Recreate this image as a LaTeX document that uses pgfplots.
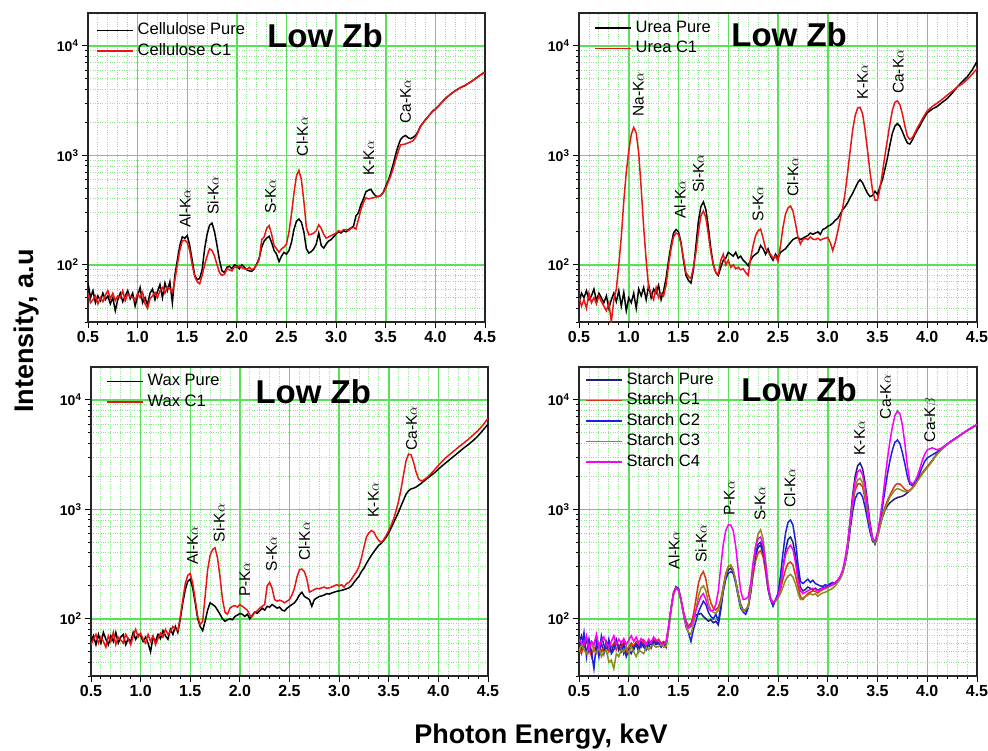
\documentclass[border=0pt]{standalone}
\usepackage{fontspec}
\setmainfont{Liberation Sans}
\usepackage{pgfplots}
\usepackage{pgfplotstable}
\pgfplotsset{compat=1.18}

\definecolor{gridmaj}{RGB}{90,225,90}
\definecolor{gridmin}{RGB}{140,230,140}
\definecolor{cred}{RGB}{235,20,20}
\definecolor{spure}{RGB}{30,30,130}
\definecolor{sc1}{RGB}{220,50,20}
\definecolor{sc2}{RGB}{30,30,230}
\definecolor{sc3}{RGB}{140,140,30}
\definecolor{sc4}{RGB}{250,0,250}

% Cellulose: pure, C1
\pgfplotstableread{
E P R
0.500 68 55
0.525 50 45
0.550 58 48
0.575 45 52
0.600 52 44
0.625 47 50
0.650 55 46
0.675 48 53
0.700 52 58
0.725 44 49
0.750 50 55
0.775 38 47
0.800 48 52
0.825 55 50
0.850 46 58
0.875 52 47
0.900 58 54
0.925 49 51
0.950 55 50
0.975 42 47
1.000 52 55
1.025 62 50
1.050 45 56
1.075 50 44
1.100 43 40
1.125 55 49
1.150 60 52
1.175 48 56
1.200 57 50
1.225 66 58
1.250 50 62
1.275 68 55
1.300 58 63
1.325 70 60
1.350 45 56
1.375 80 72
1.400 110 100
1.425 150 135
1.450 180 165
1.475 175 168
1.500 185 160
1.525 150 135
1.550 110 100
1.575 80 78
1.600 73 70
1.625 75 67
1.650 90 80
1.675 140 100
1.700 190 120
1.725 230 140
1.750 240 135
1.775 200 120
1.800 150 100
1.825 110 85
1.850 88 80
1.875 85 82
1.900 95 92
1.925 97 90
1.950 92 88
1.975 100 96
2.000 98 94
2.025 92 98
2.050 100 94
2.075 95 92
2.100 90 91
2.125 88 95
2.150 87 90
2.175 92 93
2.200 102 100
2.225 115 112
2.250 145 170
2.275 165 180
2.300 175 215
2.325 182 228
2.350 160 190
2.375 135 150
2.400 125 140
2.425 107 130
2.450 120 140
2.475 130 145
2.500 125 155
2.525 135 200
2.550 160 290
2.575 210 450
2.600 250 650
2.625 262 730
2.650 245 600
2.675 200 380
2.700 140 220
2.725 128 188
2.750 132 190
2.775 140 195
2.800 155 205
2.825 195 232
2.850 150 215
2.875 142 190
2.900 155 175
2.925 165 180
2.950 170 185
2.975 180 190
3.000 192 195
3.025 200 205
3.050 195 200
3.075 205 210
3.100 200 210
3.125 210 205
3.150 217 215
3.175 225 220
3.200 280 212
3.225 300 260
3.250 355 320
3.275 400 370
3.300 465 410
3.325 480 400
3.350 490 405
3.375 450 410
3.400 425 415
3.425 420 420
3.450 430 430
3.475 460 455
3.500 520 500
3.525 590 570
3.550 690 650
3.575 830 760
3.600 1020 910
3.625 1220 1080
3.650 1400 1250
3.675 1480 1260
3.700 1520 1270
3.725 1450 1300
3.750 1420 1330
3.775 1460 1360
3.800 1520 1460
3.825 1650 1620
3.850 1850 1830
3.875 1980 1970
3.900 2120 2100
3.925 2250 2250
3.950 2400 2380
3.975 2550 2540
4.000 2650 2620
4.050 2950 2930
4.100 3300 3300
4.150 3600 3620
4.200 3900 3880
4.250 4150 4150
4.300 4350 4380
4.350 4650 4650
4.400 5000 4980
4.450 5400 5380
4.500 5800 5750
}\cellulose

% Urea: pure, C1
\pgfplotstableread{
E P R
0.500 45 50
0.525 55 42
0.550 50 48
0.575 58 40
0.600 48 55
0.625 52 45
0.650 60 50
0.675 47 44
0.700 55 52
0.725 50 46
0.750 45 42
0.775 52 38
0.800 40 45
0.825 48 30
0.850 55 48
0.875 46 60
0.900 58 100
0.925 42 180
0.950 56 380
0.975 38 700
1.000 50 1100
1.025 45 1550
1.050 55 1800
1.075 40 1600
1.100 60 1050
1.125 52 500
1.150 62 220
1.175 48 110
1.200 65 62
1.225 50 55
1.250 60 48
1.275 55 62
1.300 65 50
1.325 48 55
1.350 58 52
1.375 75 65
1.400 110 100
1.425 150 140
1.450 195 180
1.475 210 195
1.500 200 190
1.525 160 155
1.550 110 115
1.575 80 85
1.600 72 78
1.625 68 75
1.650 90 95
1.675 150 130
1.700 250 200
1.725 340 280
1.750 375 310
1.775 320 270
1.800 220 190
1.825 140 130
1.850 100 100
1.875 85 85
1.900 80 82
1.925 95 110
1.950 110 125
1.975 115 100
2.000 130 110
2.025 125 95
2.050 120 100
2.075 130 92
2.100 115 95
2.125 120 90
2.150 110 92
2.175 105 85
2.200 98 80
2.225 110 115
2.250 120 150
2.275 125 185
2.300 130 205
2.325 150 212
2.350 140 175
2.375 125 140
2.400 140 130
2.425 120 125
2.450 110 115
2.475 125 120
2.500 115 108
2.525 130 150
2.550 135 220
2.575 140 290
2.600 150 330
2.625 160 345
2.650 170 310
2.675 175 240
2.700 178 180
2.725 170 155
2.750 175 170
2.775 180 175
2.800 185 170
2.825 195 180
2.850 190 172
2.875 195 170
2.900 200 175
2.925 190 168
2.950 210 172
2.975 215 175
3.000 225 178
3.025 230 160
3.050 240 135
3.075 255 160
3.100 265 200
3.125 290 260
3.150 320 330
3.175 340 460
3.200 370 700
3.225 410 1100
3.250 450 1700
3.275 500 2300
3.300 560 2700
3.325 600 2750
3.350 560 2400
3.375 500 1700
3.400 450 1100
3.425 420 700
3.450 430 480
3.475 470 390
3.500 440 390
3.525 520 500
3.550 600 700
3.575 750 1000
3.600 950 1400
3.625 1250 1950
3.650 1600 2600
3.675 1850 3050
3.700 1950 3150
3.725 1850 2900
3.750 1650 2400
3.775 1450 1850
3.800 1300 1500
3.825 1270 1400
3.850 1380 1450
3.875 1550 1600
3.900 1700 1780
3.925 1850 1950
3.950 2050 2150
3.975 2250 2350
4.000 2450 2550
4.050 2650 2800
4.100 2800 3000
4.150 3050 3250
4.200 3300 3550
4.250 3700 3850
4.300 4200 4200
4.350 4700 4500
4.400 5200 4900
4.450 6000 5500
4.500 7200 6200
}\urea

% Wax: pure, C1
\pgfplotstableread{
E P R
0.500 62 58
0.525 70 65
0.550 58 72
0.575 72 60
0.600 60 68
0.625 75 62
0.650 65 55
0.675 58 70
0.700 70 62
0.725 62 75
0.750 75 58
0.775 60 68
0.800 68 64
0.825 72 60
0.850 58 72
0.875 66 65
0.900 62 58
0.925 75 70
0.950 65 80
0.975 72 68
1.000 70 74
1.025 62 65
1.050 68 60
1.075 60 72
1.100 50 62
1.125 68 70
1.150 62 58
1.175 72 66
1.200 66 74
1.225 78 68
1.250 70 80
1.275 65 72
1.300 80 76
1.325 72 85
1.350 85 80
1.375 75 78
1.400 100 105
1.425 140 150
1.450 185 210
1.475 220 250
1.500 230 260
1.525 190 210
1.550 140 150
1.575 100 105
1.600 85 88
1.625 78 95
1.650 95 160
1.675 120 280
1.700 140 380
1.725 135 430
1.750 130 445
1.775 120 360
1.800 110 240
1.825 100 150
1.850 95 115
1.875 98 110
1.900 100 125
1.925 98 130
1.950 105 132
1.975 108 128
2.000 112 135
2.025 110 130
2.050 105 125
2.075 110 120
2.100 100 108
2.125 108 105
2.150 115 115
2.175 112 118
2.200 118 125
2.225 125 130
2.250 120 135
2.275 130 200
2.300 128 215
2.325 135 190
2.350 130 150
2.375 125 145
2.400 128 148
2.425 120 145
2.450 118 140
2.475 125 145
2.500 130 150
2.525 135 165
2.550 140 190
2.575 150 240
2.600 165 280
2.625 175 285
2.650 160 270
2.675 155 230
2.700 150 175
2.725 130 180
2.750 150 185
2.775 155 190
2.800 160 188
2.825 162 192
2.850 165 195
2.875 170 190
2.900 168 192
2.925 172 195
2.950 175 200
2.975 178 205
3.000 180 200
3.025 182 205
3.050 185 195
3.075 188 210
3.100 192 215
3.125 200 230
3.150 215 250
3.175 230 270
3.200 245 300
3.225 270 360
3.250 290 450
3.275 320 560
3.300 350 610
3.325 380 640
3.350 410 620
3.375 440 560
3.400 470 520
3.425 490 500
3.450 520 530
3.475 560 580
3.500 610 640
3.525 680 720
3.550 760 820
3.575 850 980
3.600 950 1200
3.625 1080 1550
3.650 1220 2100
3.675 1380 2800
3.700 1480 3200
3.725 1540 3150
3.750 1560 2700
3.775 1600 2200
3.800 1660 1900
3.825 1720 1820
3.850 1800 1850
3.875 1880 1920
3.900 1960 2010
3.925 2040 2120
3.950 2120 2240
3.975 2220 2380
4.000 2330 2520
4.050 2550 2820
4.100 2780 3100
4.150 3030 3380
4.200 3300 3680
4.250 3600 4000
4.300 3900 4350
4.350 4250 4780
4.400 4700 5250
4.450 5300 5900
4.500 6000 6800
}\wax

% Starch: pure, C1, C2, C3, C4
\pgfplotstableread{
E P A B C D
0.500 60 55 70 50 65
0.525 70 48 55 58 60
0.550 55 62 75 52 58
0.575 65 50 45 48 70
0.600 50 58 65 55 52
0.625 62 45 50 60 62
0.650 58 55 35 52 58
0.675 68 52 60 48 72
0.700 52 60 45 55 55
0.725 60 50 70 45 62
0.750 48 55 58 50 68
0.775 62 58 50 52 60
0.800 55 50 65 40 55
0.825 50 56 48 42 62
0.850 58 60 52 35 70
0.875 65 52 62 48 58
0.900 52 58 55 45 65
0.925 60 54 50 52 60
0.950 48 62 58 50 66
0.975 55 50 45 55 58
1.000 50 55 52 48 64
1.025 58 60 48 56 70
1.050 52 56 55 50 62
1.075 60 62 58 45 68
1.100 55 58 50 52 60
1.125 62 55 60 50 66
1.150 58 64 55 48 62
1.175 55 60 52 55 58
1.200 62 58 58 52 65
1.225 58 62 54 56 60
1.250 65 66 62 58 68
1.275 60 62 58 55 64
1.300 62 65 60 56 62
1.325 58 60 55 58 60
1.350 60 62 60 55 58
1.375 55 60 58 56 62
1.400 80 85 82 80 85
1.425 120 125 125 120 125
1.450 170 175 170 165 170
1.475 195 195 195 190 190
1.500 185 185 190 180 185
1.525 150 150 150 145 150
1.550 115 115 110 110 115
1.575 95 95 85 88 92
1.600 85 85 75 75 82
1.625 90 88 62 72 85
1.650 100 110 80 90 100
1.675 108 150 95 120 120
1.700 110 210 115 160 140
1.725 112 250 130 190 160
1.750 105 270 145 200 170
1.775 100 230 135 180 150
1.800 95 170 115 140 125
1.825 98 140 105 120 118
1.850 92 125 100 115 120
1.875 95 120 110 112 135
1.900 88 128 95 120 180
1.925 120 150 130 140 300
1.950 180 200 180 190 480
1.975 240 260 230 250 640
2.000 280 300 260 300 720
2.025 290 310 270 310 720
2.050 270 280 260 280 640
2.075 220 220 210 220 460
2.100 170 165 160 165 280
2.125 135 130 125 130 180
2.150 120 118 115 118 150
2.175 118 120 110 122 152
2.200 130 130 125 128 158
2.225 180 170 175 185 210
2.250 280 250 280 300 330
2.275 380 340 400 460 460
2.300 450 400 480 600 540
2.325 470 420 500 650 560
2.350 400 370 440 540 480
2.375 280 270 300 340 320
2.400 190 185 190 210 200
2.425 150 150 150 155 152
2.450 140 140 130 142 140
2.475 145 148 150 145 148
2.500 165 160 170 155 160
2.525 200 185 250 170 200
2.550 290 230 400 195 290
2.575 420 280 600 225 380
2.600 530 320 760 245 440
2.625 560 330 800 255 470
2.650 500 310 720 240 430
2.675 380 250 520 210 330
2.700 260 200 320 175 230
2.725 195 160 220 150 180
2.750 180 150 210 155 170
2.775 185 160 220 160 175
2.800 195 170 230 165 180
2.825 190 175 215 170 185
2.850 185 180 225 165 190
2.875 190 178 210 170 185
2.900 182 172 205 160 180
2.925 188 180 200 168 185
2.950 192 185 198 172 190
2.975 195 190 205 175 192
3.000 198 195 200 180 195
3.025 205 200 210 185 200
3.050 210 205 215 190 208
3.075 215 210 212 200 215
3.100 225 220 225 215 225
3.125 240 235 240 230 245
3.150 270 265 265 260 280
3.175 340 330 320 330 360
3.200 480 450 430 460 500
3.225 800 700 650 720 760
3.250 1350 1100 950 1150 1250
3.275 2000 1500 1250 1600 1800
3.300 2500 1700 1400 1850 2200
3.325 2650 1720 1420 1920 2300
3.350 2350 1600 1300 1750 2050
3.375 1750 1250 1050 1350 1600
3.400 1150 900 800 950 1050
3.425 750 650 620 680 700
3.450 550 520 510 530 540
3.475 480 490 500 500 510
3.500 560 580 600 560 620
3.525 700 720 780 700 820
3.550 850 900 1050 870 1200
3.575 980 1050 1500 1000 1900
3.600 1080 1200 2100 1150 2900
3.625 1150 1350 2800 1300 4200
3.650 1200 1500 3500 1400 5700
3.675 1250 1650 4100 1500 7200
3.700 1280 1720 4300 1550 7900
3.725 1300 1700 4000 1520 7500
3.750 1320 1620 3300 1480 5900
3.775 1360 1520 2600 1450 4000
3.800 1420 1480 2000 1450 2500
3.825 1480 1500 1700 1480 1800
3.850 1560 1580 1650 1560 1700
3.875 1680 1680 1750 1660 1800
3.900 1850 1820 1900 1800 2000
3.925 2000 1980 2150 1950 2350
3.950 2150 2150 2450 2100 2800
3.975 2300 2300 2750 2250 3200
4.000 2450 2450 2950 2400 3500
4.050 2800 2780 3150 2750 3650
4.100 3250 3220 3350 3200 3500
4.150 3600 3580 3650 3570 3650
4.200 3950 3930 3960 3920 3950
4.250 4250 4230 4260 4220 4250
4.300 4550 4530 4560 4520 4550
4.350 4900 4880 4900 4870 4900
4.400 5250 5230 5250 5220 5250
4.450 5600 5580 5600 5570 5600
4.500 5950 5930 5950 5920 5950
}\starch

% settings shared by all four panels
\pgfplotsset{
  legend image code/.code={\draw[#1, line width=1.5pt] (0pt,0pt) -- (36pt,0pt);},
  every axis plot/.append style={line width=1.5pt},
  scale only axis, width=397pt, height=309pt,
  xmin=0.5, xmax=4.5, ymin=30, ymax=20000,
  xtick={0.5,1,1.5,2,2.5,3,3.5,4,4.5},
  xticklabel={\pgfmathprintnumber[fixed,fixed zerofill,precision=1,assume math mode=true]{\tick}},
  minor x tick num=4,
  ytick={100,1000,10000},
  yticklabels={{10\textsuperscript{2}},{10\textsuperscript{3}},{10\textsuperscript{4}}},
  minor ytick={30,40,50,60,70,80,90,200,300,400,500,600,700,800,900,2000,3000,4000,5000,6000,7000,8000,9000},
  xticklabel style={font=\fontsize{16}{16}\selectfont\bfseries},
  yticklabel style={font=\fontsize{14}{14}\selectfont\bfseries},
  grid=both,
  major grid style={gridmaj, line width=1.5pt},
  minor grid style={gridmin, dotted, line width=0.9pt},
  tick align=outside, xtick pos=left, ytick pos=left,
  major tick length=6pt, minor tick length=3pt,
  tick style={black, line width=1pt},
  axis line style={black!85, line width=1.5pt},
  legend cell align=left,
  legend style={draw=none, fill=none, inner sep=0pt, row sep=3pt, column sep=3pt,
    font=\fontsize{16.5}{19}\selectfont,
    nodes={inner sep=1pt, text height=12pt, text depth=3.5pt},
    at={(0,1)}, anchor=north west},
}
\tikzset{
  peak/.style={rotate=90, anchor=west, inner sep=0pt, font=\fontsize{15.5}{16}\selectfont},
  lowzb/.style={anchor=base, inner sep=0pt, font=\fontsize{33}{33}\selectfont\bfseries},
}

\begin{document}
\begin{tikzpicture}

% top left: cellulose
\begin{semilogyaxis}[at={(88pt,-322pt)}, anchor=south west,
  legend style={xshift=8pt, yshift=-8.5pt}]
\addplot[black] table[x=E, y=P] {\cellulose};
\addplot[cred] table[x=E, y=R] {\cellulose};
\legend{Cellulose Pure, Cellulose C1}
\node[lowzb] at (rel axis cs:0.597,0.887) {Low Zb};
\node[peak] at (axis cs:1.477,218) {Al-K$\alpha$};
\node[peak] at (axis cs:1.76,286) {Si-K$\alpha$};
\node[peak] at (axis cs:2.34,290) {S-K$\alpha$};
\node[peak] at (axis cs:2.66,980) {Cl-K$\alpha$};
\node[peak] at (axis cs:3.33,650) {K-K$\alpha$};
\node[peak] at (axis cs:3.70,1950) {Ca-K$\alpha$};
\end{semilogyaxis}

% top right: urea
\begin{semilogyaxis}[width=398pt, at={(579pt,-322pt)}, anchor=south west,
  legend style={xshift=15pt, yshift=-6pt}]
\addplot[black] table[x=E, y=P] {\urea};
\addplot[cred] table[x=E, y=R] {\urea};
\legend{Urea Pure, Urea C1}
\node[lowzb] at (rel axis cs:0.528,0.891) {Low Zb};
\node[peak] at (axis cs:1.096,2250) {Na-K$\alpha$};
\node[peak] at (axis cs:1.515,263) {Al-K$\alpha$};
\node[peak] at (axis cs:1.70,457) {Si-K$\alpha$};
\node[peak] at (axis cs:2.30,249) {S-K$\alpha$};
\node[peak] at (axis cs:2.65,420) {Cl-K$\alpha$};
\node[peak] at (axis cs:3.35,3250) {K-K$\alpha$};
\node[peak] at (axis cs:3.71,3630) {Ca-K$\alpha$};
\end{semilogyaxis}

% bottom left: wax
\begin{semilogyaxis}[at={(91pt,-676pt)}, anchor=south west,
  legend style={xshift=15pt, yshift=-5.5pt}]
\addplot[black] table[x=E, y=P] {\wax};
\addplot[cred] table[x=E, y=R] {\wax};
\legend{Wax Pure, Wax C1}
\node[lowzb] at (rel axis cs:0.56,0.8825) {Low Zb};
\node[peak] at (axis cs:1.52,312) {Al-K$\alpha$};
\node[peak] at (axis cs:1.79,500) {Si-K$\alpha$};
\node[peak] at (axis cs:2.05,158) {P-K$\alpha$};
\node[peak] at (axis cs:2.32,272) {S-K$\alpha$};
\node[peak] at (axis cs:2.65,336) {Cl-K$\alpha$};
\node[peak] at (axis cs:3.345,840) {K-K$\alpha$};
\node[peak] at (axis cs:3.73,3430) {Ca-K$\alpha$};
\end{semilogyaxis}

% bottom right: starch
\begin{semilogyaxis}[width=398pt, at={(579pt,-676pt)}, anchor=south west,
  legend style={xshift=6pt, yshift=-4pt}]
\addplot[spure] table[x=E, y=P] {\starch};
\addplot[sc1] table[x=E, y=A] {\starch};
\addplot[sc2] table[x=E, y=B] {\starch};
\addplot[sc3] table[x=E, y=C] {\starch};
\addplot[sc4] table[x=E, y=D] {\starch};
\legend{Starch Pure, Starch C1, Starch C2, Starch C3, Starch C4}
\node[lowzb] at (rel axis cs:0.553,0.888) {Low Zb};
\node[peak] at (axis cs:1.455,282) {Al-K$\alpha$};
\node[peak] at (axis cs:1.726,325) {Si-K$\alpha$};
\node[peak] at (axis cs:2.01,870) {P-K$\alpha$};
\node[peak] at (axis cs:2.32,780) {S-K$\alpha$};
\node[peak] at (axis cs:2.62,1040) {Cl-K$\alpha$};
\node[peak] at (axis cs:3.32,3100) {K-K$\alpha$};
\node[peak] at (axis cs:3.58,6650) {Ca-K$\alpha$};
\node[peak] at (axis cs:4.04,4100) {Ca-K$\beta$};
\end{semilogyaxis}

\node[rotate=90, anchor=base, inner sep=0pt, font=\fontsize{27}{27}\selectfont\bfseries] at (34pt,-331pt) {Intensity, a.u};
\node[anchor=base, inner sep=0pt, font=\fontsize{27}{27}\selectfont\bfseries] at (541pt,-743pt) {Photon Energy, keV};

\pgfresetboundingbox
\path[use as bounding box] (0pt,0pt) rectangle (988pt,-750pt);
\end{tikzpicture}
\end{document}
